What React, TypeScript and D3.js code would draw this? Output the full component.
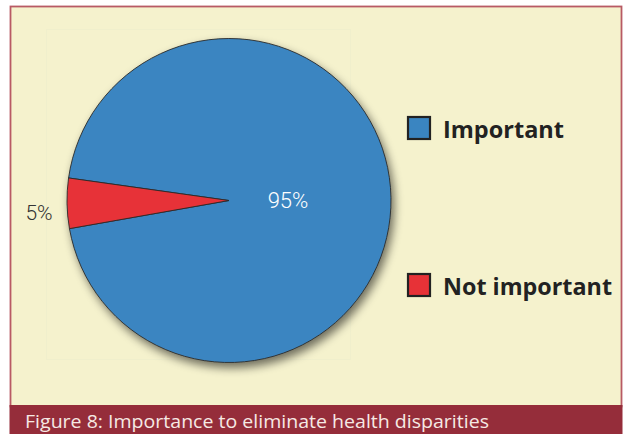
import React from "react";
import * as d3 from "d3";

const categories = ["Important", "Not important"];
const values = [95, 5];
const labels = ["95%", "5%"];
const colors = ["#3a85c1", "#e73237"];
const caption = "Figure 8: Importance to eliminate health disparities";

export default function App() {
  const W = 623, H = 434;
  const cx = 229, cy = 200.5, r = 162;
  const start = (278 * Math.PI) / 180;
  const pie = d3.pie<number>().sort(null).startAngle(start).endAngle(start + 2 * Math.PI);
  const arcs = pie(values);
  const arc = d3.arc<d3.PieArcDatum<number>>().innerRadius(0).outerRadius(r);
  const labelPos = [
    { x: cx + 59, y: cy + 7, fill: "#ffffff", size: 22, anchor: "middle" },
    { x: 39, y: cy + 19, fill: "#333333", size: 21, anchor: "middle" },
  ];
  const legendY = [128, 285];
  return (
    <svg width={W} height={H} style={{ position: "absolute", left: 0, top: 0 }}>
      <defs>
        <filter id="shadow" x="-20%" y="-20%" width="140%" height="140%">
          <feGaussianBlur in="SourceAlpha" stdDeviation="5" />
          <feOffset dx="3" dy="5" result="b" />
          <feComponentTransfer>
            <feFuncA type="linear" slope="0.55" />
          </feComponentTransfer>
          <feMerge>
            <feMergeNode />
            <feMergeNode in="SourceGraphic" />
          </feMerge>
        </filter>
      </defs>
      <rect x={0} y={0} width={W} height={H} fill="#ffffff" />
      <rect x={10.5} y={6.5} width={611} height={400} fill="#f5f2cd" stroke="#b85a64" strokeWidth={1.8} />
      <rect x={46.5} y={29.5} width={304} height={330} fill="none" stroke="#f0efcc" strokeWidth={1} />
      <g transform={`translate(${cx},${cy})`} filter="url(#shadow)">
        {arcs.map((a, i) => (
          <path key={categories[i]} d={arc(a) || ""} fill={colors[i]} stroke="#2a2a2a" strokeWidth={0.9} />
        ))}
      </g>
      {labels.map((t, i) => (
        <text
          key={t}
          x={labelPos[i].x}
          y={labelPos[i].y}
          fill={labelPos[i].fill}
          fontSize={labelPos[i].size}
          textAnchor={labelPos[i].anchor as any}
          fontFamily="Roboto, 'Noto Sans', sans-serif"
          fontWeight={300}
        >
          {t}
        </text>
      ))}
      {categories.map((c, i) => (
        <g key={c}>
          <rect x={408} y={legendY[i] - 11} width={22} height={22} fill={colors[i]} stroke="#222" strokeWidth={2.2} />
          <text
            x={443}
            y={legendY[i] + 10}
            fontSize={23}
            fontWeight={700}
            fill="#222"
            fontFamily="'Open Sans', 'Noto Sans', sans-serif"
            textLength={c === "Important" ? 121 : 169}
            lengthAdjust="spacingAndGlyphs"
          >
            {c}
          </text>
        </g>
      ))}
      <rect x={9.5} y={405} width={613} height={29} fill="#952d3a" />
      <text
        x={25}
        y={428}
        fontSize={18}
        fill="#f6e9e4"
        fontFamily="'Open Sans', 'Noto Sans', sans-serif"
        textLength={464}
        lengthAdjust="spacingAndGlyphs"
      >
        {caption}
      </text>
    </svg>
  );
}
